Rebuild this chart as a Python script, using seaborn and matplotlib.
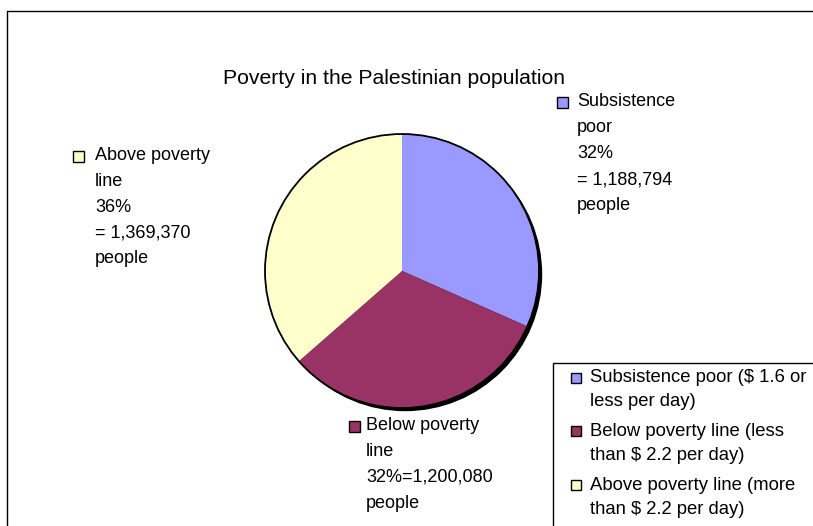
import matplotlib
matplotlib.use("Agg")
import matplotlib.pyplot as plt
from matplotlib.patches import Rectangle, Circle
from matplotlib.lines import Line2D
import seaborn as sns

sns.set_theme(style="white")
plt.rcParams["font.family"] = ["Liberation Sans", "DejaVu Sans"]
plt.rcParams["text.color"] = "black"

# Poverty categories and population counts
categories = ["Subsistence poor", "Below poverty line", "Above poverty line"]
people = [1188794, 1200080, 1369370]
percent_labels = ["32%", "32%", "36%"]
legend_labels = [
    ["Subsistence poor ($ 1.6 or", "less per day)"],
    ["Below poverty line (less", "than $ 2.2 per day)"],
    ["Above poverty line (more", "than $ 2.2 per day)"],
]
colors = ["#9999FF", "#993366", "#FFFFCC"]

W, H = 813, 526
fig = plt.figure(figsize=(W / 100, H / 100), dpi=100)
fig.patch.set_facecolor("white")


def fx(px):
    return px / W


def fy(py):
    return 1 - py / H


# chart frame (left and top edges)
fig.add_artist(Line2D([fx(6.5), fx(6.5)], [fy(11), fy(530)], color="black", lw=1.0))
fig.add_artist(Line2D([fx(6.5), fx(820)], [fy(11), fy(11)], color="black", lw=1.0))

fig.text(fx(394), fy(78), "Poverty in the Palestinian population",
         ha="center", va="center", fontsize=15.2)

# pie axes
cx, cy, r = 402, 271, 137
ax = fig.add_axes([fx(cx - r), fy(cy + r), 2 * r / W, 2 * r / H])
ax.axis("off")

off = 3.2 / r
wedges, _ = ax.pie(people, colors=colors, startangle=90, counterclock=False,
                   radius=1.0, wedgeprops=dict(edgecolor="none", linewidth=0))
for w in wedges:
    w.set_zorder(1)
    w.set_clip_on(False)
ax.add_patch(Circle((off, -off), 1.0, facecolor="black", edgecolor="none",
                    zorder=0, clip_on=False))
ax.add_patch(Circle((0, 0), 1.0, facecolor="none", edgecolor="black", lw=1.3,
                    zorder=2, clip_on=False))
ax.set_xlim(-1, 1)
ax.set_ylim(-1, 1)
ax.set_aspect("equal")

# data labels with colour keys
label_fs = 13
label_specs = [
    # (index, square x, square y, text x, first line y, text lines)
    (0, 557, 97, 577, 102, ["Subsistence", "poor", percent_labels[0], "= {:,}".format(people[0]), "people"]),
    (2, 73, 151, 95, 155, ["Above poverty", "line", percent_labels[2], "= {:,}".format(people[2]), "people"]),
    (1, 349, 421, 366, 425, ["Below poverty", "line", "{}={:,}".format(percent_labels[1], people[1]), "people"]),
]
line_step = 26.0
for idx, sx, sy, tx, ty, lines in label_specs:
    fig.add_artist(Rectangle((fx(sx), fy(sy + 11)), 11 / W, 11 / H,
                             facecolor=colors[idx], edgecolor="black", lw=1.0,
                             transform=fig.transFigure))
    for k, line in enumerate(lines):
        fig.text(fx(tx), fy(ty + k * line_step), line, ha="left", va="center",
                 fontsize=label_fs)

# legend box, running off the right and bottom edges
fig.add_artist(Rectangle((fx(553), fy(540)), (830 - 553) / W, (540 - 363) / H,
                         facecolor="white", edgecolor="black", lw=1.0,
                         transform=fig.transFigure))
entry_y = [378, 431, 485]
for idx, (ey, lines) in enumerate(zip(entry_y, legend_labels)):
    fig.add_artist(Rectangle((fx(571), fy(ey + 5)), 10 / W, 10 / H,
                             facecolor=colors[idx], edgecolor="black", lw=1.0,
                             transform=fig.transFigure))
    for k, line in enumerate(lines):
        fig.text(fx(590), fy(ey + k * 24), line, ha="left", va="center",
                 fontsize=13.3)

fig.savefig("out.png", dpi=100, facecolor="white")
